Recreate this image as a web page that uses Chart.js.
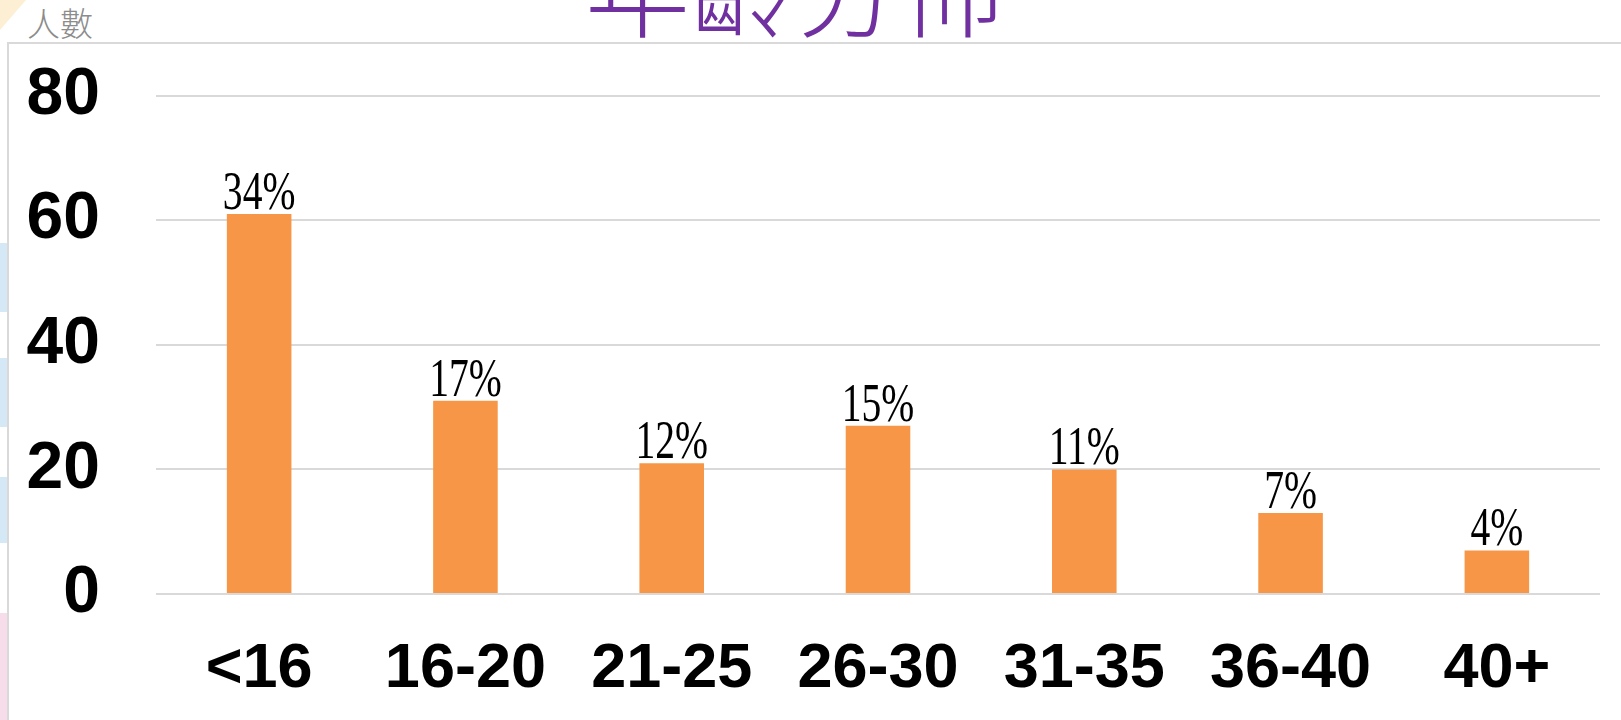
<!DOCTYPE html>
<html>
<head>
<meta charset="utf-8">
<script src="https://cdn.jsdelivr.net/npm/chart.js@4"></script>
<style>
  html, body { margin: 0; padding: 0; background: #fff; overflow: hidden; }
  #page { position: relative; width: 1621px; height: 720px; overflow: hidden; }
  .deco { position: absolute; left: 0; width: 7px; }
  #frame { position: absolute; left: 7px; top: 42px; width: 1700px; height: 800px;
           border-left: 2px solid #d9d9d9; border-top: 2px solid #d9d9d9; }
  #title { position: absolute; left: 585px; top: -69px; font-size: 105px; line-height: 1;
           font-family: "Noto Sans CJK TC", sans-serif; font-weight: 300; color: #7030a0; white-space: nowrap; }
  #unit { position: absolute; left: 27px; top: 6px; font-size: 33px; line-height: 1;
          font-family: "Noto Sans CJK TC", sans-serif; font-weight: 300; color: #8c8c8c; }
  #wrap { position: absolute; left: 0; top: 0; width: 1621px; height: 720px; }
</style>
</head>
<body>
<div id="page">
  <!-- slide decorations on the left edge -->
  <div style="position:absolute;left:0;top:0;width:0;height:0;border-top:30px solid #fcefd4;border-right:26px solid transparent;"></div>
  <div class="deco" style="top:243px;height:69px;background:#d4e9f5;"></div>
  <div class="deco" style="top:358px;height:69px;background:#d4e9f5;"></div>
  <div class="deco" style="top:477px;height:66px;background:#d4e9f5;"></div>
  <div class="deco" style="top:613px;height:107px;background:#f7dce9;"></div>

  <div id="frame"></div>
  <div id="title">年齡分佈</div>
  <div id="unit">人數</div>
  <div id="wrap"><canvas id="ageChart"></canvas></div>
</div>

<script>
// values
const ageGroups = ['<16', '16-20', '21-25', '26-30', '31-35', '36-40', '40+'];
const headcount = [61, 31, 21, 27, 20, 13, 7];
const percentLabels = ['34%', '17%', '12%', '15%', '11%', '7%', '4%'];
const yTicks = [0, 20, 40, 60, 80];

// percent labels above bars, narrow serif like the original
const barLabels = {
    id: 'barLabels',
    afterDatasetsDraw(chart) {
        const ctx = chart.ctx;
        const meta = chart.getDatasetMeta(0);
        meta.data.forEach((bar, i) => {
            ctx.save();
            ctx.translate(bar.x, bar.y - 5);
            ctx.scale(0.72, 1);
            ctx.font = '55px "Liberation Serif", serif';
            ctx.fillStyle = '#000';
            ctx.textAlign = 'center';
            ctx.textBaseline = 'alphabetic';
            ctx.fillText(percentLabels[i], 0, 0);
            ctx.restore();
        });
    }
};

const ctx = document.getElementById('ageChart').getContext('2d');

const ageChart = new Chart(ctx, {
    type: 'bar',
    data: {
        labels: ageGroups,
        datasets: [{
            data: headcount,
            backgroundColor: '#f79646',
            borderWidth: 0,
            categoryPercentage: 1,
            barPercentage: 0.313
        }]
    },
    options: {
        responsive: true,
        maintainAspectRatio: false,
        animation: false,
        layout: { padding: { top: 93, right: 21, left: 0, bottom: 0 } },
        plugins: {
            legend: { display: false },
            tooltip: { enabled: false }
        },
        scales: {
            x: {
                grid: { display: false, drawTicks: false },
                border: { display: false },
                ticks: {
                    color: '#000',
                    padding: 38,
                    font: { family: '"Liberation Sans", Arial, sans-serif', size: 63, weight: 'bold' }
                },
                afterFit(scale) { scale.height = 126; }
            },
            y: {
                min: 0,
                max: 80,
                afterBuildTicks(scale) { scale.ticks = yTicks.map(v => ({ value: v })); },
                grid: { color: '#d9d9d9', lineWidth: 2, drawTicks: false },
                border: { display: false },
                ticks: {
                    color: '#000',
                    padding: 56,
                    font: { family: '"Liberation Sans", Arial, sans-serif', size: 66, weight: 'bold' }
                },
                afterFit(scale) { scale.width = 156; }
            }
        }
    },
    plugins: [barLabels]
});
</script>
</body>
</html>
